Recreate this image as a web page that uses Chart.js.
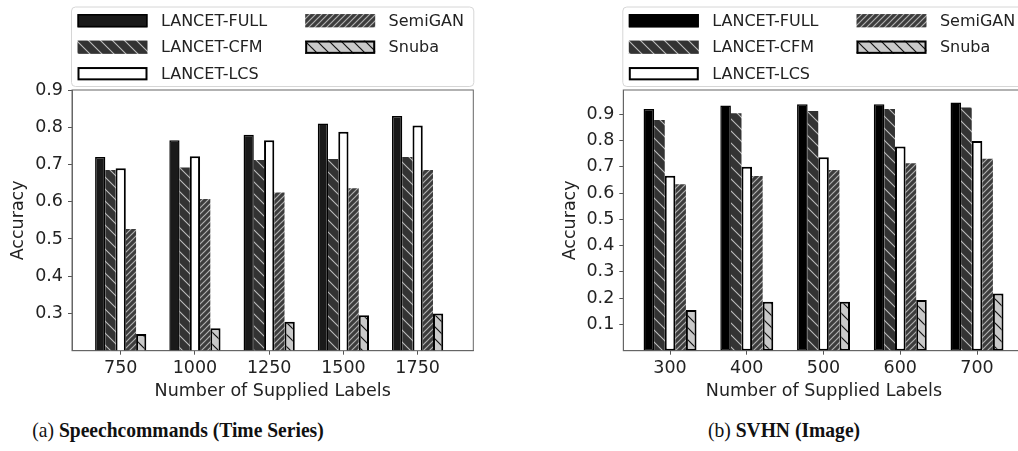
<!DOCTYPE html>
<html>
<head>
<meta charset="utf-8">
<script src="https://cdn.jsdelivr.net/npm/chart.js@4.4.1/dist/chart.umd.min.js"></script>
<style>
  html, body { margin: 0; padding: 0; background: #fff; overflow: hidden; width: 1018px; height: 451px; }
  canvas { position: absolute; top: 0; }
  #cvA { left: 0; }
  #cvB { left: 540px; }
  .cap { position: absolute; font-family: "Liberation Serif", serif; font-size: 21.5px; color: #111;
         white-space: nowrap; transform: translateX(-50%) scaleX(0.91); line-height: 1; }
  .cap b { font-weight: bold; }
</style>
</head>
<body>
<canvas id="cvA" width="500" height="410"></canvas>
<canvas id="cvB" width="490" height="410"></canvas>
<div class="cap" style="left:178px; top:420px">(a) <b>Speechcommands (Time Series)</b></div>
<div class="cap" style="left:784px; top:420px">(b) <b>SVHN (Image)</b></div>

<script>
// Method names, shared by both panels
const seriesNames = ['LANCET-FULL', 'LANCET-CFM', 'LANCET-LCS', 'SemiGAN', 'Snuba'];

// Panel (a): Speechcommands
const labelsA = ['750', '1000', '1250', '1500', '1750'];
const fullA  = [0.720, 0.765, 0.780, 0.810, 0.830];
const cfmA   = [0.685, 0.692, 0.712, 0.715, 0.720];
const lcsA   = [0.690, 0.722, 0.765, 0.788, 0.805];
const semiA  = [0.527, 0.607, 0.625, 0.636, 0.685];
const snubaA = [0.245, 0.260, 0.278, 0.295, 0.300];
const yTicksA = [0.3, 0.4, 0.5, 0.6, 0.7, 0.8, 0.9];

// Panel (b): SVHN
const labelsB = ['300', '400', '500', '600', '700'];
const fullB  = [0.920, 0.933, 0.938, 0.938, 0.944];
const cfmB   = [0.878, 0.904, 0.912, 0.920, 0.925];
const lcsB   = [0.666, 0.700, 0.736, 0.777, 0.798];
const semiB  = [0.633, 0.665, 0.688, 0.713, 0.730];
const snubaB = [0.155, 0.186, 0.186, 0.193, 0.218];
const yTicksB = [0.1, 0.2, 0.3, 0.4, 0.5, 0.6, 0.7, 0.8, 0.9];

Chart.defaults.font.family = '"DejaVu Sans", sans-serif';
Chart.defaults.color = '#222';

// Diagonal hatch tile: 'back' = "\" lines, 'fwd' = "/" lines
function hatch(bg, fg, size, lw, dir) {
  const c = document.createElement('canvas');
  c.width = c.height = size;
  const g = c.getContext('2d');
  g.fillStyle = bg;
  g.fillRect(0, 0, size, size);
  g.strokeStyle = fg;
  g.lineWidth = lw;
  g.beginPath();
  if (dir === 'back') {
    for (const k of [-size, 0, size]) { g.moveTo(k - size, -size); g.lineTo(k + 2 * size, 2 * size); }
  } else {
    for (const k of [0, size, 2 * size]) { g.moveTo(k + size, -size); g.lineTo(k - 2 * size, 2 * size); }
  }
  g.stroke();
  return g.createPattern(c, 'repeat');
}

const cfmFill   = hatch('#333333', '#bdbdbd', 12, 1.1, 'back');
const semiFill  = hatch('#3c3c3c', '#b0b0b0', 6, 1.2, 'fwd');
const snubaFill = hatch('#c9c9c9', '#111111', 12, 1.2, 'back');

function styles(fullColor) {
  return [
    { backgroundColor: fullColor, borderColor: '#000', borderWidth: 1.5 },
    { backgroundColor: cfmFill, borderColor: '#333', borderWidth: 0 },
    { backgroundColor: '#ffffff', borderColor: '#000', borderWidth: 2 },
    { backgroundColor: semiFill, borderColor: '#3c3c3c', borderWidth: 0 },
    { backgroundColor: snubaFill, borderColor: '#000', borderWidth: 2 }
  ];
}

// Frame on the top and right of the plotting area
const frame = {
  id: 'frame',
  afterDatasetsDraw(chart) {
    const { ctx, chartArea: a } = chart;
    ctx.save();
    ctx.strokeStyle = '#666';
    ctx.lineWidth = 1;
    ctx.strokeRect(a.left, a.top, a.right - a.left, a.bottom - a.top);
    ctx.restore();
  }
};

// Two-column legend above the plot
const legendBox = {
  id: 'legendBox',
  afterDraw(chart) {
    const { ctx, chartArea: a } = chart;
    const ds = chart.data.datasets;
    ctx.save();
    const bx = a.left - 0.5, by = 7, bw = a.right - a.left + 1, bh = 79.5, r = 4;
    ctx.beginPath();
    ctx.roundRect(bx, by, bw, bh, r);
    ctx.fillStyle = '#fff';
    ctx.fill();
    ctx.strokeStyle = '#d6d6d6';
    ctx.lineWidth = 1;
    ctx.stroke();

    const cols = [[0, 1, 2], [3, 4]];
    const colX = [5.5, 233.2];
    const rowY = [20.7, 47.2, 73.7];
    const hw = 70, hh = 13.3;
    ctx.font = '16px "DejaVu Sans"';
    ctx.textBaseline = 'middle';
    cols.forEach((col, ci) => col.forEach((di, ri) => {
      const d = ds[di];
      const x = a.left + colX[ci], y = rowY[ri] - hh / 2;
      ctx.fillStyle = d.backgroundColor;
      ctx.fillRect(x, y, hw, hh);
      if (d.borderWidth) {
        ctx.strokeStyle = d.borderColor;
        ctx.lineWidth = d.borderWidth;
        ctx.strokeRect(x + d.borderWidth / 2, y + d.borderWidth / 2, hw - d.borderWidth, hh - d.borderWidth);
      }
      ctx.fillStyle = '#222';
      ctx.fillText(d.label, x + 83.4, rowY[ri] + 1);
    }));
    ctx.restore();
  }
};

function makeChart(id, cats, series, fullColor, yMin, yMax, yTicks, opts) {
  const st = styles(fullColor);
  const datasets = series.map((vals, i) => Object.assign({
    label: seriesNames[i],
    data: vals.map((v, j) => ({ x: j, y: v })),
    borderSkipped: false,
    categoryPercentage: 0.69,
    barPercentage: 1.0
  }, st[i]));

  return new Chart(document.getElementById(id), {
    type: 'bar',
    data: { datasets },
    plugins: [frame, legendBox],
    options: {
      responsive: false,
      animation: false,
      devicePixelRatio: 1,
      layout: { padding: { top: 90, right: opts.padRight, bottom: 0, left: 0 } },
      plugins: { legend: { display: false }, tooltip: { enabled: false } },
      scales: {
        x: {
          type: 'linear',
          min: opts.xMin,
          max: opts.xMax,
          offset: false,
          afterBuildTicks: s => { s.ticks = cats.map((_, i) => ({ value: i })); },
          afterFit: s => { s.height = opts.xHeight; },
          ticks: { callback: v => cats[v], font: { size: 17.5 }, color: '#222', padding: 3, maxRotation: 0 },
          grid: { offset: false, drawOnChartArea: false, drawTicks: true, tickLength: 4, color: '#555' },
          border: { display: true, color: '#666', width: 1 },
          title: { display: true, text: 'Number of Supplied Labels', font: { size: 17.5 }, color: '#222',
                   padding: { top: 0, bottom: 8 } }
        },
        y: {
          type: 'linear',
          min: yMin,
          max: yMax,
          afterBuildTicks: s => { s.ticks = yTicks.map(v => ({ value: v })); },
          afterFit: s => { s.width = opts.yWidth; },
          ticks: { callback: v => v.toFixed(1), font: { size: 17.5 }, color: '#222', padding: 5 },
          grid: { drawOnChartArea: false, drawTicks: true, tickLength: 4, color: '#555' },
          border: { display: true, color: '#666', width: 1 },
          title: { display: true, text: 'Accuracy', font: { size: 17.5 }, color: '#222',
                   padding: { top: opts.yTitlePad, bottom: 0 } }
        }
      }
    }
  });
}

makeChart('cvA', labelsA, [fullA, cfmA, lcsA, semiA, snubaA], '#1a1a1a', 0.2, 0.9, yTicksA,
  { xMin: -0.656, xMax: 4.75, padRight: 26.7, xHeight: 59.3, yWidth: 72, yTitlePad: 7.8 });

makeChart('cvB', labelsB, [fullB, cfmB, lcsB, semiB, snubaB], '#000000', 0.0, 0.992, yTicksB,
  { xMin: -0.609, xMax: 4.62, padRight: 5.4, xHeight: 59.3, yWidth: 83.3, yTitlePad: 20 });
</script>
</body>
</html>
